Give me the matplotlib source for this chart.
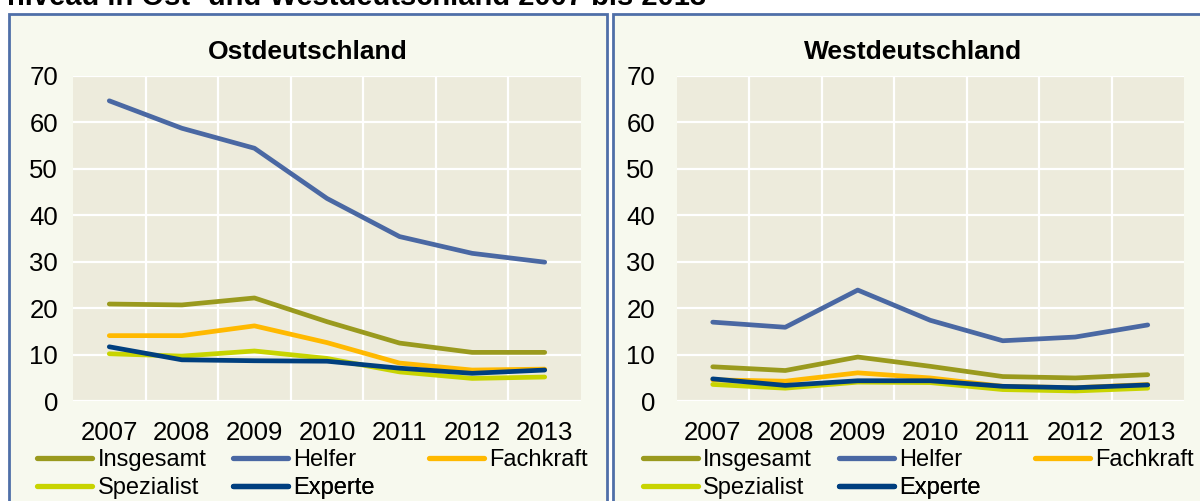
import matplotlib
matplotlib.use("Agg")
import matplotlib.pyplot as plt
from matplotlib.patches import Rectangle
from matplotlib.lines import Line2D

plt.rcParams['font.family'] = ['Liberation Sans', 'DejaVu Sans']

years = ["2007", "2008", "2009", "2010", "2011", "2012", "2013"]
series_names = ["Insgesamt", "Helfer", "Fachkraft", "Spezialist", "Experte"]
colors = ["#9A9A1E", "#4A68A3", "#FFB900", "#C8D400", "#003F7F"]

ost_insgesamt = [20.9, 20.7, 22.2, 17.1, 12.5, 10.5, 10.5]
ost_helfer = [64.6, 58.7, 54.4, 43.6, 35.4, 31.8, 29.9]
ost_fachkraft = [14.1, 14.1, 16.2, 12.6, 8.2, 6.7, 6.9]
ost_spezialist = [10.2, 9.7, 10.8, 9.2, 6.3, 4.9, 5.2]
ost_experte = [11.7, 8.9, 8.7, 8.6, 7.1, 6.0, 6.7]

west_insgesamt = [7.4, 6.6, 9.5, 7.5, 5.3, 5.0, 5.7]
west_helfer = [17.0, 15.9, 23.9, 17.4, 13.0, 13.8, 16.4]
west_fachkraft = [4.6, 4.3, 6.1, 5.0, 3.2, 2.9, 3.6]
west_spezialist = [3.6, 2.8, 4.1, 4.0, 2.5, 2.2, 2.8]
west_experte = [4.8, 3.4, 4.4, 4.4, 3.2, 2.9, 3.5]

panel_titles = ["Ostdeutschland", "Westdeutschland"]
yticks = [0, 10, 20, 30, 40, 50, 60, 70]
main_title = "niveau in Ost- und Westdeutschland 2007 bis 2013"

W, H = 1200, 501
FS = 18.5
LFS = 17
fig = plt.figure(figsize=(W / 100, H / 100), dpi=100)
fig.patch.set_facecolor("white")

def fx(px):
    return px / W

def fy(py):
    return 1 - py / H

# panel frames
panel_bg = "#F7F9EE"
border = "#4F6FA8"
for x0, x1 in [(9, 607), (613, 1215)]:
    r = Rectangle((fx(x0), fy(515)), fx(x1) - fx(x0), fy(14) - fy(515),
                  transform=fig.transFigure, facecolor=panel_bg,
                  edgecolor=border, linewidth=2.0, zorder=-5)
    fig.patches.append(r)

# main title (partially cut off at top, as in the source)
fig.text(fx(7), fy(5), main_title, fontsize=21, fontweight="bold",
         ha="left", va="baseline")

panels = [
    (73, 581, 58, 308, [ost_insgesamt, ost_helfer, ost_fachkraft, ost_spezialist, ost_experte]),
    (676.5, 1184, 655, 913, [west_insgesamt, west_helfer, west_fachkraft, west_spezialist, west_experte]),
]

top_px, bot_px = 75.7, 401.2
x_idx = list(range(len(years)))
for (ax0, ax1, lab_right, title_cx, data), title in zip(panels, panel_titles):
    ax = fig.add_axes([fx(ax0), fy(bot_px), fx(ax1) - fx(ax0), fy(top_px) - fy(bot_px)])
    ax.set_zorder(2)
    ax.set_facecolor("#EDEBDC")
    for s in ax.spines.values():
        s.set_visible(False)
    for vals, c in zip(data, colors):
        ax.plot(x_idx, vals, color=c, linewidth=3.4, solid_capstyle="round",
                solid_joinstyle="round", zorder=3)
    ax.set_xlim(-0.5, len(years) - 0.5)
    ax.set_ylim(0, 70)
    ax.set_yticks(yticks)
    ax.set_yticklabels([str(v) for v in yticks])
    ax.set_xticks(x_idx)
    ax.set_xticklabels(years)
    ax.set_xticks([i + 0.5 for i in range(len(years) - 1)], minor=True)
    ax.tick_params(axis="both", which="both", length=0, labelsize=FS, colors="black")
    ax.tick_params(axis="y", pad=(ax0 - lab_right) * 0.72)
    ax.tick_params(axis="x", pad=14)
    ax.grid(True, axis="y", which="major", color="white", linewidth=1.6, zorder=1)
    ax.grid(True, axis="x", which="minor", color="white", linewidth=1.6, zorder=1)
    ax.grid(False, axis="x", which="major")
    ax.set_axisbelow(True)
    fig.text(fx(title_cx), fy(52), title, fontsize=19, fontweight="bold",
             ha="center", va="center", zorder=3)

    # legend: entries placed in a 3-column grid like the original
    base = 37 if ax0 < 600 else 642.5
    col_off = [0, 196, 392]
    positions = [(0, 0), (1, 0), (2, 0), (0, 1), (1, 1)]
    for name, c, (ci, ri) in zip(series_names, colors, positions):
        h = Line2D([], [], color=c, linewidth=3.8, solid_capstyle="round")
        leg = ax.legend([h], [name], loc="center left",
                        bbox_to_anchor=(fx(base + col_off[ci]), fy(460 + ri * 28)),
                        bbox_transform=fig.transFigure, frameon=False,
                        fontsize=LFS, handlelength=2.34, handletextpad=0.22,
                        borderpad=0, borderaxespad=0)
        ax.add_artist(leg)

fig.savefig("out.png", dpi=100, facecolor=fig.get_facecolor())
